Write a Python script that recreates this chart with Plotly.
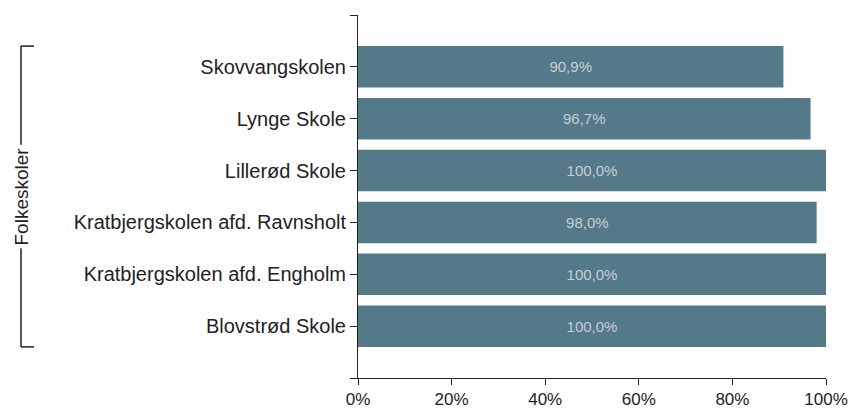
import plotly.graph_objects as go

# Schools, listed bottom to top
schools = [
    "Blovstrød Skole",
    "Kratbjergskolen afd. Engholm",
    "Kratbjergskolen afd. Ravnsholt",
    "Lillerød Skole",
    "Lynge Skole",
    "Skovvangskolen",
]
shares = [100.0, 100.0, 98.0, 100.0, 96.7, 90.9]
x_ticks = [0, 20, 40, 60, 80, 100]
group_label = "Folkeskoler"

positions = list(range(len(schools)))
bar_text = [f"{v:.1f}".replace(".", ",") + "%" for v in shares]

FONT = "Liberation Sans, Arial, sans-serif"
INK = "#222222"

fig = go.Figure()
fig.add_trace(
    go.Bar(
        x=shares,
        y=positions,
        orientation="h",
        width=0.8,
        marker=dict(color="#547989", line=dict(width=0)),
        text=bar_text,
        textposition="inside",
        insidetextanchor="middle",
        textangle=0,
        textfont=dict(color="#c6ced3", size=15, family=FONT),
        hoverinfo="skip",
        showlegend=False,
    )
)

fig.update_layout(
    width=850,
    height=408,
    margin=dict(l=358, r=24, t=15, b=30),
    plot_bgcolor="white",
    paper_bgcolor="white",
    font=dict(family=FONT, color=INK),
    bargap=0.2,
    xaxis=dict(
        range=[0, 100],
        tickvals=x_ticks,
        ticktext=[f"{t}%" for t in x_ticks],
        showgrid=False,
        zeroline=False,
        showline=True,
        linecolor=INK,
        linewidth=1,
        ticks="outside",
        ticklen=6,
        tickcolor=INK,
        tickfont=dict(size=17, color=INK),
        automargin=False,
    ),
    yaxis=dict(
        range=[-1, 6],
        # end ticks at -1 and 6 mimic the domain outer ticks
        tickvals=[-1] + positions + [6],
        ticktext=[""] + schools + [""],
        showgrid=False,
        zeroline=False,
        showline=True,
        linecolor=INK,
        linewidth=1,
        ticks="outside",
        ticklen=7,
        tickcolor=INK,
        tickfont=dict(size=20, color=INK),
        automargin=False,
    ),
)

# Group bracket on the left
bx = (21 - 358) / 468
bx_end = (34 - 358) / 468
bottom, top = positions[0] - 0.4, positions[-1] + 0.4
mid = (bottom + top) / 2
gap = 1.0
line = dict(color=INK, width=1.5)
for y0, y1 in [(bottom, mid - gap), (mid + gap, top)]:
    fig.add_shape(type="line", xref="paper", yref="y", x0=bx, x1=bx, y0=y0, y1=y1, line=line)
for yy in [bottom, top]:
    fig.add_shape(type="line", xref="paper", yref="y", x0=bx, x1=bx_end, y0=yy, y1=yy, line=line)

fig.add_annotation(
    x=bx,
    y=mid,
    xref="paper",
    yref="y",
    xanchor="center",
    yanchor="middle",
    text=group_label,
    textangle=-90,
    showarrow=False,
    font=dict(size=19, color=INK, family=FONT),
)

# drop the default page margin so the figure fills the window exactly
fig.write_html(
    "out.html",
    config={"displayModeBar": False},
    post_script="document.body.style.margin='0';",
)
